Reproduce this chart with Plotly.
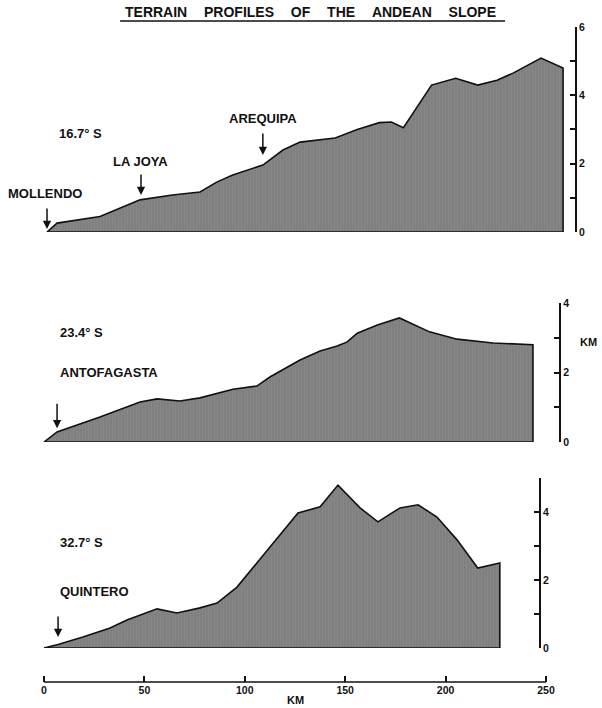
import plotly.graph_objects as go

# ---------------- data (distance km, elevation km) ----------------
top_km = [1.5, 6.5, 27.9, 47.8, 64, 77.7, 86, 94, 109, 119, 127.5, 136.5, 145, 156, 167, 173, 179, 193, 205, 216, 225.6, 233.6, 247.5, 258.5]
top_h = [0, 0.26, 0.45, 0.94, 1.08, 1.17, 1.46, 1.67, 1.96, 2.4, 2.63, 2.7, 2.75, 3.0, 3.2, 3.22, 3.05, 4.3, 4.5, 4.3, 4.44, 4.65, 5.09, 4.8]

mid_km = [0, 6.5, 27.9, 47.8, 56.3, 67.7, 77.7, 86.2, 94.1, 106, 112.5, 127.5, 137.5, 146, 151, 156, 166, 177, 192, 205.7, 223.6, 243.5]
mid_h = [0, 0.29, 0.72, 1.15, 1.24, 1.18, 1.27, 1.41, 1.52, 1.61, 1.87, 2.36, 2.62, 2.76, 2.88, 3.13, 3.37, 3.57, 3.17, 2.96, 2.85, 2.8]

bot_km = [0, 7, 19.4, 32.9, 41.3, 56.3, 66.2, 77.7, 86.2, 96.1, 106, 117.5, 126.5, 137.5, 146.4, 157.4, 166.3, 177.3, 186.3, 195.7, 205.7, 216, 227]
bot_h = [0, 0.1, 0.32, 0.59, 0.82, 1.15, 1.03, 1.18, 1.32, 1.79, 2.5, 3.32, 3.97, 4.15, 4.79, 4.12, 3.71, 4.12, 4.21, 3.85, 3.18, 2.35, 2.5]

x_ticks = [0, 50, 100, 150, 200, 250]
top_yticks = [0, 1, 2, 3, 4, 5, 6]
top_ytext = ["0", "", "2", "", "4", "", "6"]
mid_yticks = [0, 1, 2, 3, 4]
mid_ytext = ["0", "", "2", "", "4"]
bot_yticks = [0, 1, 2, 3, 4, 5]
bot_ytext = ["0", "", "2", "", "4", ""]

# city markers: (name, km, arrow tip elevation)
top_cities = [("MOLLENDO", 1.5, 0.09), ("LA JOYA", 48.3, 1.08), ("AREQUIPA", 109, 2.25)]
mid_cities = [("ANTOFAGASTA", 6.5, 0.40)]
bot_cities = [("QUINTERO", 7, 0.32)]
latitudes = ["16.7° S", "23.4° S", "32.7° S"]

FONT = "Liberation Sans"
FILL = "#808080"

def profile(km, h, yaxis):
    xs = km + [km[-1], km[0]]
    ys = h + [0, 0]
    return go.Scatter(
        x=xs, y=ys, xaxis="x", yaxis=yaxis, mode="lines", fill="toself",
        fillcolor=FILL,
        fillpattern=dict(shape="|", bgcolor=FILL, fgcolor="#939393", size=3, solidity=0.25),
        line=dict(color="#111111", width=1.6), hoverinfo="skip", showlegend=False,
    )

fig = go.Figure()
fig.add_trace(profile(top_km, top_h, "y"))
fig.add_trace(profile(mid_km, mid_h, "y2"))
fig.add_trace(profile(bot_km, bot_h, "y3"))

def yax(rng, dom, pos, tv, tt):
    return dict(
        range=rng, domain=dom, anchor="free", position=pos, side="right",
        showline=True, linecolor="#111111", linewidth=1.8,
        ticks="inside", ticklen=5, tickwidth=1.6, tickcolor="#111111",
        tickvals=tv, ticktext=tt, showgrid=False, zeroline=False,
        tickfont=dict(family=FONT, size=10.5, color="#111111", weight="bold"),
        fixedrange=True,
    )

fig.update_layout(
    width=602, height=708,
    margin=dict(l=24, r=16, t=20, b=26),
    paper_bgcolor="white", plot_bgcolor="white",
    xaxis=dict(
        range=[-9.96, 269.92], domain=[0, 1], anchor="free", position=0,
        tickvals=x_ticks, ticks="inside", ticklen=6, tickwidth=1.6, tickcolor="#111111",
        showline=False, showgrid=False, zeroline=False,
        tickfont=dict(family=FONT, size=10.5, color="#111111", weight="bold"),
    ),
    yaxis=yax([0, 6], [0.6798, 0.9894], 0.982, top_yticks, top_ytext),
    yaxis2=yax([0, 4], [0.3625, 0.5725], 0.954, mid_yticks, mid_ytext),
    yaxis3=yax([0, 5], [0.0514, 0.3082], 0.918, bot_yticks, bot_ytext),
)

# x axis line from 0 to 250
fig.add_shape(type="line", xref="x", yref="paper", x0=x_ticks[0], x1=x_ticks[-1], y0=0, y1=0,
              line=dict(color="#111111", width=1.6))

# title with underline
SP = "\u2003\u2009"
fig.add_annotation(xref="paper", yref="paper", x=0.51, y=1.012, showarrow=False,
                   xanchor="center", yanchor="middle",
                   text=SP.join(["TERRAIN", "PROFILES", "OF", "THE", "ANDEAN", "SLOPE"]),
                   font=dict(family=FONT, size=14, color="#111111", weight="bold"))
fig.add_shape(type="line", xref="paper", yref="paper", x0=0.171, x1=0.856, y0=0.9985, y1=0.9985,
              line=dict(color="#111111", width=1.5))

lab_font = dict(family=FONT, size=13, color="#111111", weight="bold")

def label(text, x, y, yref, xanchor="center"):
    fig.add_annotation(xref="x", yref=yref, x=x, y=y, text=text, showarrow=False,
                       xanchor=xanchor, yanchor="middle", font=lab_font)

def arrow(x, y, yref, length):
    fig.add_annotation(xref="x", yref=yref, x=x, y=y, ax=0, ay=-length, text="",
                       showarrow=True, arrowhead=2, arrowsize=1.1, arrowwidth=1.5,
                       arrowcolor="#111111", axref="pixel", ayref="pixel")

# top panel
label(latitudes[0], 6.5, 2.87, "y", "left")
label(top_cities[0][0], 0.5, 1.14, "y")
label(top_cities[1][0], 48.3, 2.05, "y")
label(top_cities[2][0], 109, 3.33, "y")
for (n, k, tip), L in zip(top_cities, [22, 22, 23]):
    arrow(k, tip, "y", L)

# middle panel
label(latitudes[1], 7, 3.14, "y2", "left")
label(mid_cities[0][0], 7, 1.99, "y2", "left")
arrow(mid_cities[0][1], mid_cities[0][2], "y2", 26)
fig.add_annotation(xref="paper", yref="paper", x=1.0036, y=0.5136, text="KM", showarrow=False,
                   xanchor="center", yanchor="middle",
                   font=dict(family=FONT, size=11, color="#111111", weight="bold"))

# bottom panel
label(latitudes[2], 7, 3.09, "y3", "left")
label(bot_cities[0][0], 7, 1.65, "y3", "left")
arrow(bot_cities[0][1], bot_cities[0][2], "y3", 22)

# x axis title
fig.add_annotation(xref="x", yref="paper", x=125, y=-0.0272, text="KM", showarrow=False,
                   xanchor="center", yanchor="middle",
                   font=dict(family=FONT, size=11, color="#111111", weight="bold"))

fig.write_html("out.html")
